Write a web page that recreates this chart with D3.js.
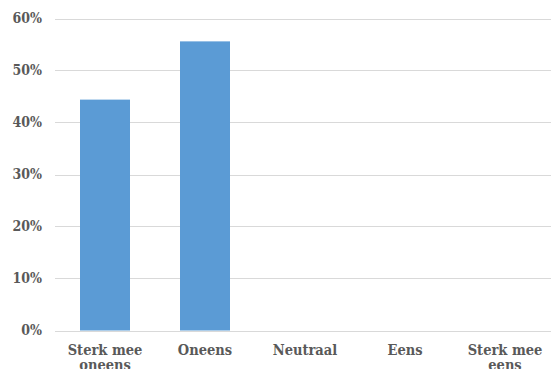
<!DOCTYPE html>
<html>
<head>
<meta charset="utf-8">
<script src="https://cdn.jsdelivr.net/npm/d3@7"></script>
<style>
  html, body { margin: 0; padding: 0; background: #fff; }
  svg { display: block; }
  text { font-family: "DejaVu Serif Condensed", "DejaVu Serif", Georgia, serif; font-stretch: condensed; font-weight: bold; fill: #595959; }
</style>
</head>
<body>
<svg id="chart" width="551" height="369"></svg>
<script>
// Response categories (Dutch Likert scale)
const categories = ["Sterk mee oneens", "Oneens", "Neutraal", "Eens", "Sterk mee eens"];
// Share of respondents per category
const shares = [0.444, 0.556, 0, 0, 0];
// Y axis ticks
const yTicks = [0, 0.1, 0.2, 0.3, 0.4, 0.5, 0.6];

const svg = d3.select("#chart");
const plotLeft = 55, plotRight = 555, plotTop = 18.5, plotBottom = 330.5;

const x = d3.scaleBand().domain(categories).range([plotLeft, plotRight]).paddingInner(0.5).paddingOuter(0.25);
const y = d3.scaleLinear().domain([0, 0.6]).range([plotBottom, plotTop]);

// gridlines
svg.append("g").selectAll("line").data(yTicks).join("line")
  .attr("x1", plotLeft).attr("x2", plotRight)
  .attr("y1", d => Math.round(y(d)) + 0.5).attr("y2", d => Math.round(y(d)) + 0.5)
  .attr("stroke", "#d9d9d9").attr("stroke-width", 1);

// bars
svg.append("g").selectAll("rect").data(categories.map((c, i) => ({c, v: shares[i]}))).join("rect")
  .attr("x", d => x(d.c)).attr("width", x.bandwidth())
  .attr("y", d => y(d.v)).attr("height", d => y(0) - y(d.v))
  .attr("fill", "#5b9bd5");

// y axis labels
const fmt = d3.format(".0%");
svg.append("g").selectAll("text").data(yTicks).join("text")
  .attr("x", 42).attr("y", d => y(d)).attr("dy", "0.35em")
  .attr("text-anchor", "end").attr("font-size", 14)
  .text(d => fmt(d));

// x axis labels, wrapped onto two lines where needed
const lines = {"Sterk mee oneens": ["Sterk mee", "oneens"], "Sterk mee eens": ["Sterk mee", "eens"]};
const xl = svg.append("g").selectAll("text").data(categories).join("text")
  .attr("x", d => x(d) + x.bandwidth() / 2).attr("y", 355)
  .attr("text-anchor", "middle").attr("font-size", 14.5);
xl.each(function(d) {
  const ls = lines[d] || [d];
  d3.select(this).selectAll("tspan").data(ls).join("tspan")
    .attr("x", x(d) + x.bandwidth() / 2).attr("dy", (l, i) => i ? 15 : 0).text(l => l);
});
</script>
</body>
</html>
